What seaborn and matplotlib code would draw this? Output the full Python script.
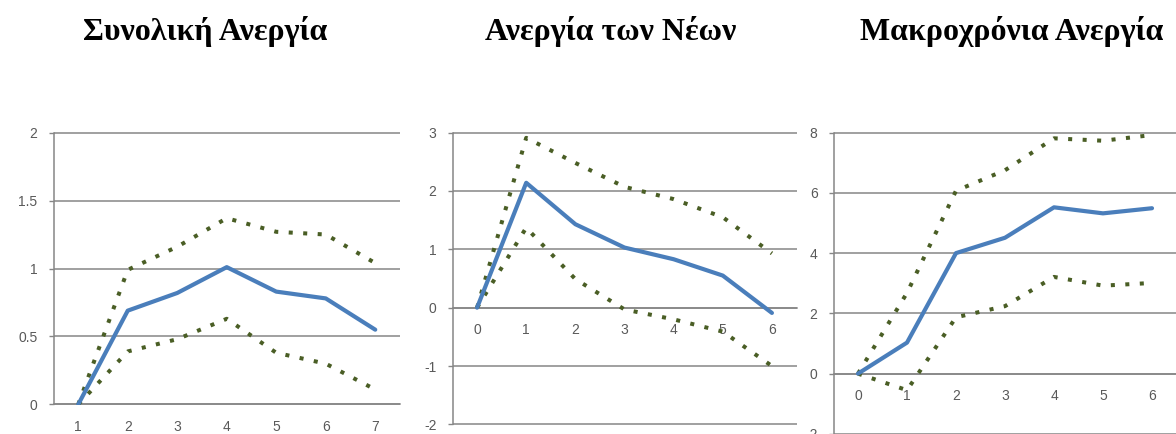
import numpy as np
import pandas as pd
import matplotlib
matplotlib.use("Agg")
import matplotlib.pyplot as plt
import seaborn as sns

# ---------------- data ----------------
titles = ["Συνολική Ανεργία", "Ανεργία των Νέων", "Μακροχρόνια Ανεργία"]

x1 = [1, 2, 3, 4, 5, 6, 7]
mid1 = [0.0, 0.69, 0.82, 1.01, 0.83, 0.78, 0.55]
up1 = [0.0, 0.99, 1.16, 1.37, 1.27, 1.25, 1.04]
lo1 = [0.0, 0.39, 0.48, 0.63, 0.38, 0.30, 0.11]
yt1 = [0, 0.5, 1, 1.5, 2]
yl1 = ["0", "0.5", "1", "1.5", "2"]

x2 = [0, 1, 2, 3, 4, 5, 6]
mid2 = [0.0, 2.14, 1.43, 1.03, 0.83, 0.55, -0.09]
up2 = [0.0, 2.91, 2.48, 2.07, 1.86, 1.55, 0.93]
lo2 = [0.0, 1.37, 0.49, -0.03, -0.20, -0.41, -1.00]
yt2 = [-2, -1, 0, 1, 2, 3]
yl2 = ["-2", "-1", "0", "1", "2", "3"]

x3 = [0, 1, 2, 3, 4, 5, 6]
mid3 = [0.0, 1.03, 4.00, 4.51, 5.52, 5.32, 5.49]
up3 = [0.0, 2.68, 6.07, 6.75, 7.81, 7.73, 7.92]
lo3 = [0.0, -0.55, 1.87, 2.24, 3.21, 2.92, 3.01]
yt3 = [-2, 0, 2, 4, 6, 8]
yl3 = ["-2", "0", "2", "4", "6", "8"]

# ---------------- style ----------------
sns.set_style("white")
plt.rcParams["font.family"] = ["Liberation Sans", "DejaVu Sans"]

BLUE = "#4A7EBB"
GREEN = "#4A5E25"
GRID = "#868686"
TXT = "#595959"

W, H = 1176, 434
fig = plt.figure(figsize=(W / 100, H / 100), dpi=100)

# axes boxes in pixels: left, right, top, bottom
boxes = [(53.5, 400, 132, 405), (452.5, 796.5, 132, 425), (833.5, 1176.5, 132, 434.5)]
panels = [
    (x1, mid1, up1, lo1, yt1, yl1),
    (x2, mid2, up2, lo2, yt2, yl2),
    (x3, mid3, up3, lo3, yt3, yl3),
]
title_x = [205, 611, 1012]

for (l, r, t, b), (xs, mid, up, lo, yt, yl), tx, ttl in zip(boxes, panels, title_x, titles):
    ax = fig.add_axes([l / W, (H - b) / H, (r - l) / W, (b - t) / H])
    for ys, c, ls, lw in [(up, GREEN, (0, (1, 2.6)), 2.9),
                          (lo, GREEN, (0, (1, 2.6)), 2.9),
                          (mid, BLUE, "-", 3.0)]:
        sns.lineplot(x=xs, y=ys, ax=ax, color=c, linestyle=ls, linewidth=lw,
                     dash_capstyle="butt", solid_capstyle="round", zorder=3)
    ax.set_xlim(xs[0] - 0.5, xs[-1] + 0.5)
    span = yt[-1] - yt[0]
    ax.set_ylim(yt[0] - span * 0.002, yt[-1] + span * 0.002)
    for y in yt:
        ax.axhline(y, color=GRID, lw=1.1, zorder=1)
    for s in ["top", "right"]:
        ax.spines[s].set_visible(False)
    ax.spines["left"].set_color(GRID)
    ax.spines["left"].set_linewidth(1.1)
    ax.spines["bottom"].set_color(GRID)
    ax.spines["bottom"].set_linewidth(1.1)
    ax.spines["bottom"].set_position(("data", 0))
    ax.spines["left"].set_bounds(yt[0], yt[-1])
    ax.set_yticks(yt)
    ax.set_yticklabels(yl)
    ax.set_xticks(xs)
    ax.set_xticklabels([str(v) for v in xs])
    ax.set_xticks([v + 0.5 for v in xs[:-1]], minor=True)
    ax.tick_params(axis="x", which="major", length=0, pad=11, labelsize=10, labelcolor=TXT)
    ax.tick_params(axis="x", which="minor", length=3.5, width=1.0, color=GRID, direction="out")
    ax.tick_params(axis="y", which="major", length=3.5, width=1.0, color=GRID, pad=8,
                   labelsize=10, labelcolor=TXT, left=True)
    ax.set_xlabel("")
    ax.set_ylabel("")
    ax.patch.set_alpha(0)
    fig.text(tx / W, (H - 40) / H, ttl, ha="center", va="baseline",
             family=["Liberation Serif", "DejaVu Serif"], fontweight="bold",
             fontsize=23, color="black")

fig.savefig("out.png", dpi=100)
